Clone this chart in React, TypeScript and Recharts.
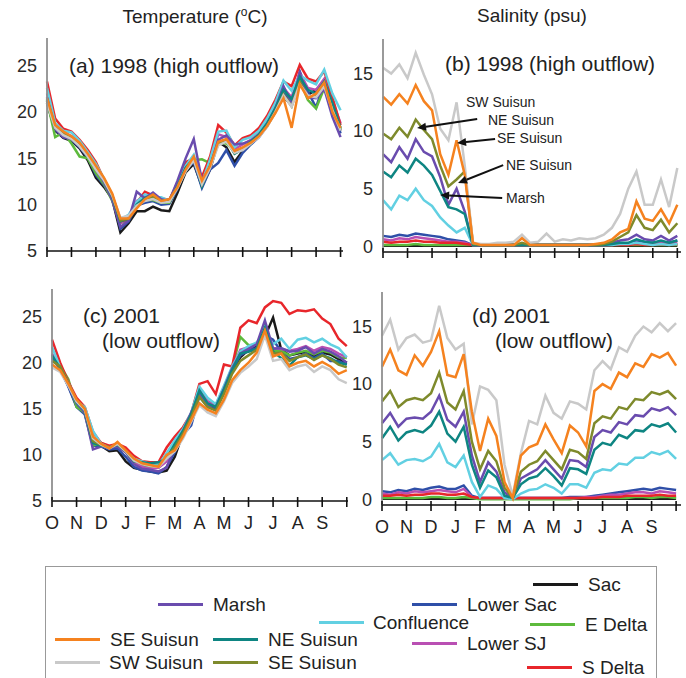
import React from 'react';
import { LineChart, Line, XAxis, YAxis, ReferenceLine } from 'recharts';

// x grid: one sample every third of a month, Oct 1 -> Oct 1
const months = ['O', 'N', 'D', 'J', 'F', 'M', 'A', 'M', 'J', 'J', 'A', 'S'];
const monthTicks = [0, 1, 2, 3, 4, 5, 6, 7, 8, 9, 10, 11, 12];
const tempTicks = [5, 10, 15, 20, 25];
const salTicks = [0, 5, 10, 15];

// (a) temperature 1998
const aSac = [21.0,18.0,17.2,16.9,16.1,14.8,12.9,11.9,10.6,7.0,8.0,9.3,9.3,9.8,9.4,9.3,11.3,13.5,14.4,12.0,13.8,16.8,16.2,14.6,15.8,16.9,17.6,18.7,20.1,21.6,20.8,23.4,21.9,22.4,23.0,20.4,18.0];
const aLowerSac = [21.2,18.1,17.3,17.0,16.2,15.1,13.2,12.1,10.8,7.4,8.2,9.9,10.2,10.4,10.0,10.1,11.7,13.8,14.6,11.8,13.8,14.5,15.9,14.2,15.6,16.5,17.3,18.5,20.2,22.0,21.1,24.4,22.2,20.5,23.2,20.4,17.7];
const aEDelta = [21.3,17.3,17.8,16.6,15.2,15.0,13.4,12.2,10.4,8.0,8.4,10.0,10.5,10.5,10.2,10.2,12.0,14.0,14.8,14.9,14.5,16.7,16.6,15.8,16.0,16.6,17.9,19.0,20.3,21.6,21.0,23.4,21.3,20.4,22.6,21.0,18.2];
const aLowerSJ = [22.0,18.5,17.8,17.4,16.6,15.4,13.8,12.5,10.8,8.0,8.6,10.4,10.9,11.0,10.6,10.5,12.1,14.1,15.0,12.6,14.6,17.6,17.3,16.0,16.5,17.0,17.8,19.0,20.7,22.6,21.6,24.2,22.6,22.4,23.6,21.2,18.8];
const aSDelta = [23.3,19.3,18.2,17.9,17.0,15.9,14.6,12.7,11.0,8.2,8.4,10.2,11.4,11.0,10.7,10.5,12.4,14.6,15.0,13.0,15.2,18.6,17.8,16.4,17.2,17.5,18.3,19.6,21.3,23.3,22.8,25.1,23.6,23.3,24.4,21.6,18.6];
const aConfluence = [22.6,18.8,18.0,17.8,16.9,15.7,14.4,12.8,11.0,8.4,8.9,10.3,11.1,10.8,10.8,10.4,12.2,14.2,15.4,12.4,14.9,17.9,18.0,16.2,17.0,17.3,18.0,19.3,21.0,23.4,22.3,24.0,23.4,23.0,24.6,22.0,20.2];
const aMarsh = [21.6,18.2,17.3,17.1,16.3,15.3,13.9,12.4,10.5,7.6,8.3,11.4,10.7,11.3,10.6,10.4,12.6,15.0,17.1,12.6,14.1,17.0,17.5,16.5,16.6,16.9,17.5,18.6,20.4,22.8,21.0,24.2,21.6,21.5,22.5,19.5,17.3];
const aNESuisun = [21.4,18.4,17.6,17.2,16.4,15.2,13.9,12.6,10.9,8.2,8.5,10.0,10.7,11.0,10.4,10.5,12.0,14.0,15.0,12.0,14.2,16.6,17.0,15.5,16.0,16.8,17.6,18.8,20.4,22.4,21.4,23.8,22.4,22.0,23.3,21.0,18.3];
const aSESuisunOl = [21.2,18.4,17.7,17.3,16.5,15.3,14.0,12.7,11.0,8.3,8.5,9.8,10.5,10.9,10.3,10.4,11.8,13.7,15.0,12.2,14.1,16.6,17.0,15.6,16.1,16.7,17.4,18.5,20.0,21.9,20.6,23.2,21.7,21.7,23.0,20.2,18.1];
const aSWSuisun = [21.0,18.3,17.5,17.1,16.3,15.2,13.8,12.6,11.0,8.6,8.8,9.9,10.4,10.6,10.2,10.3,11.8,13.6,14.8,12.2,14.0,16.4,16.8,15.6,15.9,16.6,17.3,18.4,20.0,21.8,20.6,23.0,21.8,21.6,22.8,20.2,18.0];
const aSESuisun = [21.5,18.6,17.9,17.4,16.7,15.5,14.2,12.9,11.2,8.5,8.5,9.6,10.6,11.1,10.4,10.6,11.9,13.8,15.2,12.6,14.2,16.8,17.1,15.8,16.2,16.7,17.4,18.5,19.9,21.5,18.3,23.0,21.5,22.0,23.2,20.0,18.3];

// (b) salinity 1998
const bSac = [0.05,0.05,0.05,0.05,0.05,0.05,0.05,0.05,0.05,0.05,0.05,0.05,0.05,0.05,0.05,0.05,0.05,0.05,0.05,0.05,0.05,0.05,0.05,0.05,0.05,0.05,0.05,0.05,0.05,0.05,0.05,0.05,0.05,0.05,0.05,0.05,0.05];
const bLowerSac = [0.9,0.8,1.0,0.9,1.1,1.0,0.9,0.8,0.6,0.5,0.4,0.1,0.1,0.1,0.1,0.1,0.1,0.1,0.1,0.1,0.1,0.1,0.1,0.1,0.1,0.1,0.1,0.1,0.2,0.2,0.2,0.4,0.3,0.3,0.4,0.3,0.5];
const bEDelta = [0.1,0.1,0.1,0.1,0.2,0.1,0.1,0.1,0.1,0.1,0.1,0.1,0.1,0.1,0.1,0.1,0.1,0.1,0.1,0.1,0.1,0.1,0.1,0.1,0.1,0.1,0.1,0.1,0.1,0.1,0.1,0.1,0.1,0.1,0.1,0.1,0.1];
const bLowerSJ = [0.6,0.5,0.7,0.6,0.8,0.7,0.6,0.5,0.4,0.4,0.3,0.1,0.1,0.1,0.1,0.1,0.1,0.1,0.1,0.1,0.1,0.1,0.1,0.1,0.1,0.1,0.1,0.1,0.1,0.2,0.2,0.3,0.2,0.2,0.3,0.2,0.3];
const bSDelta = [0.4,0.3,0.4,0.4,0.5,0.4,0.4,0.3,0.3,0.3,0.2,0.1,0.1,0.1,0.1,0.1,0.1,0.1,0.1,0.1,0.1,0.1,0.1,0.1,0.1,0.1,0.1,0.1,0.1,0.1,0.1,0.2,0.1,0.1,0.2,0.1,0.2];
const bConfluence = [4.0,3.2,4.4,4.0,5.0,4.0,3.5,2.5,1.8,1.2,1.6,0.1,0.1,0.1,0.1,0.1,0.1,0.1,0.1,0.1,0.1,0.1,0.1,0.1,0.1,0.1,0.1,0.1,0.1,0.2,0.2,0.3,0.2,0.1,0.2,0.1,0.2];
const bMarsh = [8.0,7.3,8.6,7.6,9.3,8.2,7.8,6.0,3.6,5.0,3.0,0.1,0.1,0.1,0.1,0.1,0.1,0.2,0.1,0.1,0.1,0.1,0.1,0.1,0.1,0.1,0.1,0.2,0.3,0.5,0.6,1.0,0.6,0.5,0.9,0.5,0.9];
const bNESuisun = [6.5,6.0,7.0,6.4,7.6,7.0,6.2,4.8,3.4,3.2,2.8,0.1,0.1,0.1,0.1,0.1,0.1,0.1,0.1,0.1,0.1,0.1,0.1,0.1,0.1,0.1,0.1,0.1,0.2,0.3,0.3,0.6,0.4,0.3,0.5,0.3,0.5];
const bSESuisunOl = [9.8,9.3,10.3,9.5,11.0,10.1,9.3,7.0,5.2,5.8,6.5,0.2,0.1,0.1,0.1,0.1,0.1,0.3,0.1,0.1,0.1,0.1,0.1,0.1,0.1,0.1,0.1,0.2,0.4,0.8,1.2,2.7,1.6,1.4,2.3,1.2,2.0];
const bSWSuisun = [15.5,15.0,15.8,14.6,16.8,14.9,13.2,10.2,9.2,12.5,7.0,0.3,0.2,0.2,0.3,0.3,0.4,1.0,0.3,0.4,1.1,0.4,0.6,0.5,0.7,0.6,0.7,1.0,1.6,2.8,5.0,6.5,3.6,3.6,5.8,3.4,6.8];
const bSESuisun = [13.0,12.3,13.2,12.4,14.0,12.6,11.8,8.0,6.2,9.2,6.2,0.3,0.1,0.1,0.1,0.1,0.1,0.7,0.1,0.1,0.1,0.1,0.1,0.1,0.1,0.1,0.2,0.3,0.6,1.2,1.5,3.9,2.4,2.2,3.2,2.0,3.6];

// (c) temperature 2001
const cSac = [20.9,19.3,17.5,15.3,14.5,11.6,11.0,10.4,10.5,9.3,8.6,8.4,8.2,8.1,8.3,9.8,12.4,14.2,16.8,15.5,15.0,17.0,19.0,20.6,21.4,21.8,22.8,24.9,21.4,20.8,21.0,21.2,20.7,21.1,20.9,20.4,20.0];
const cLowerSac = [20.7,19.3,17.4,15.2,14.4,11.0,10.9,10.6,10.7,9.8,8.7,8.3,8.2,8.0,8.7,10.3,12.2,13.2,16.4,15.2,14.9,17.0,19.2,20.8,21.3,21.6,23.0,22.5,21.2,20.4,20.6,21.0,20.5,21.0,20.2,20.2,19.8];
const cEDelta = [20.6,19.7,18.2,15.2,14.6,11.0,11.3,10.9,11.0,10.4,9.3,8.8,8.6,8.6,9.6,11.2,12.7,14.3,16.9,15.8,15.4,17.3,19.5,22.8,21.9,22.0,23.2,21.3,21.3,20.8,21.1,21.3,20.9,21.3,21.1,20.6,20.5];
const cLowerSJ = [21.0,19.5,17.9,15.9,14.8,11.4,11.1,10.9,11.0,10.3,9.3,8.7,8.5,8.6,9.3,11.0,12.6,14.5,17.1,15.8,15.3,17.3,19.4,21.4,21.7,22.0,23.4,21.6,21.5,21.3,21.5,21.8,21.3,21.7,21.5,21.0,20.6];
const cSDelta = [22.5,20.0,17.9,16.2,15.2,12.5,11.3,11.0,11.2,10.8,9.9,9.3,9.2,9.2,10.8,12.0,13.0,14.5,17.7,18.0,16.6,19.8,19.6,23.8,24.6,24.3,26.0,26.7,26.5,25.3,25.7,25.6,25.8,24.8,24.2,22.6,21.8];
const cConfluence = [21.7,19.5,17.8,15.8,15.2,12.6,11.2,10.8,11.1,10.4,9.6,9.3,9.0,8.9,10.2,11.6,12.8,14.6,17.4,16.2,15.5,17.5,19.6,21.2,21.8,22.2,23.4,22.0,22.6,21.5,22.5,22.7,22.2,22.6,22.0,21.6,20.6];
const cMarsh = [20.5,19.4,17.6,15.6,14.6,10.6,10.9,10.8,10.9,10.3,9.0,8.5,8.4,8.2,8.6,10.9,12.6,14.6,16.6,15.4,15.2,17.2,19.4,21.0,21.5,22.0,24.6,21.5,21.6,21.2,21.3,21.7,21.0,21.5,21.2,20.7,20.0];
const cNESuisun = [20.8,19.4,17.7,15.7,14.8,11.3,11.0,10.8,11.1,10.4,9.3,9.2,9.1,9.2,9.6,11.2,12.6,14.4,17.0,15.6,15.2,17.1,19.2,21.0,21.2,21.5,23.8,21.2,20.5,19.7,20.6,20.8,20.4,20.8,20.5,20.0,19.8];
const cSESuisunOl = [20.2,19.6,17.8,15.9,15.0,11.5,11.1,10.8,11.2,10.4,9.4,9.0,8.8,8.8,9.8,10.8,12.3,14.1,16.3,15.2,14.8,16.6,18.8,20.2,20.8,21.4,23.4,21.0,21.1,20.2,20.6,20.9,20.3,20.8,20.4,19.8,19.5];
const cSWSuisun = [19.5,19.0,17.5,15.8,14.9,11.8,11.1,10.7,11.2,10.4,9.4,9.0,8.8,8.7,9.6,10.4,11.8,13.6,15.4,14.6,14.2,15.8,17.8,18.9,19.6,20.4,23.0,20.2,20.4,19.2,19.6,19.8,19.0,19.6,19.2,18.2,17.8];
const cSESuisun = [19.8,19.2,17.7,16.0,15.0,12.0,11.2,10.7,11.4,10.5,9.6,9.1,8.9,8.7,10.0,10.5,12.0,13.8,15.6,14.9,14.5,16.0,18.1,19.2,20.0,21.1,23.5,20.7,21.0,19.6,20.0,20.2,19.6,20.1,19.6,18.8,19.2];

// (d) salinity 2001
const dSac = [0.05,0.05,0.05,0.05,0.05,0.05,0.05,0.05,0.05,0.05,0.05,0.05,0.05,0.05,0.05,0.05,0.05,0.05,0.05,0.05,0.05,0.05,0.05,0.05,0.05,0.05,0.05,0.05,0.05,0.05,0.05,0.05,0.05,0.05,0.05,0.05,0.05];
const dLowerSac = [0.7,0.6,0.8,0.7,0.9,0.8,1.0,1.1,0.9,0.9,1.2,0.3,0.1,0.1,0.1,0.1,0.1,0.1,0.1,0.1,0.1,0.1,0.1,0.2,0.2,0.2,0.3,0.4,0.5,0.6,0.7,0.8,0.9,0.8,1.0,0.9,0.8];
const dEDelta = [0.1,0.1,0.1,0.1,0.1,0.1,0.2,0.2,0.1,0.1,0.2,0.1,0.0,0.0,0.0,0.0,0.0,0.0,0.0,0.0,0.0,0.0,0.0,0.0,0.1,0.1,0.1,0.1,0.1,0.1,0.1,0.2,0.2,0.1,0.2,0.2,0.1];
const dLowerSJ = [0.5,0.4,0.6,0.5,0.7,0.6,0.7,0.8,0.7,0.6,0.9,0.2,0.1,0.1,0.1,0.1,0.1,0.1,0.1,0.1,0.1,0.1,0.1,0.1,0.1,0.2,0.2,0.3,0.4,0.4,0.5,0.6,0.6,0.5,0.7,0.6,0.5];
const dSDelta = [0.3,0.3,0.4,0.3,0.4,0.4,0.5,0.5,0.4,0.4,0.5,0.2,0.1,0.1,0.1,0.1,0.1,0.1,0.1,0.1,0.1,0.1,0.1,0.1,0.1,0.1,0.1,0.2,0.2,0.2,0.3,0.3,0.3,0.3,0.4,0.3,0.3];
const dConfluence = [3.4,4.0,3.0,3.4,3.5,3.3,3.7,4.8,3.2,2.8,3.8,1.5,0.2,1.2,0.9,0.1,0.0,0.5,0.8,0.9,1.3,1.0,0.5,1.3,1.3,1.0,2.3,2.6,2.5,3.1,3.0,3.6,3.6,4.1,3.9,4.2,3.5];
const dMarsh = [6.6,7.5,6.3,7.0,7.1,7.0,7.6,9.0,6.9,6.3,7.6,3.8,1.5,3.2,2.4,0.6,0.1,1.8,2.2,2.6,3.4,2.6,1.8,3.4,3.3,2.8,5.4,6.0,5.8,6.7,6.5,7.3,7.2,7.9,7.7,8.0,7.3];
const dNESuisun = [5.3,6.3,5.1,5.8,6.0,5.8,6.4,7.6,5.7,5.0,6.3,3.0,1.0,2.5,1.9,0.3,0.1,1.3,1.8,2.0,2.7,2.0,1.2,2.7,2.6,2.2,4.3,4.9,4.7,5.6,5.3,6.0,5.9,6.5,6.3,6.6,5.8];
const dSESuisunOl = [8.5,9.4,8.0,8.6,8.8,8.6,9.2,11.0,8.4,7.8,9.4,5.0,2.6,4.2,3.3,1.0,0.1,2.4,3.0,3.3,4.2,3.4,2.6,4.3,4.1,3.5,6.6,7.2,7.0,8.0,7.8,8.7,8.6,9.3,9.1,9.4,8.7];
const dSWSuisun = [14.2,15.6,13.0,14.0,14.3,13.6,13.8,16.8,14.0,13.0,13.5,6.5,9.8,9.5,8.6,3.0,0.3,4.0,6.8,6.5,9.0,7.5,7.0,8.5,8.3,7.8,11.2,12.0,11.3,13.2,12.8,14.2,15.0,14.5,15.3,14.6,15.3];
const dSESuisun = [11.5,13.0,11.2,10.8,12.5,11.6,12.8,14.6,10.8,10.6,12.6,7.6,4.2,7.0,5.5,1.5,0.1,3.8,4.5,4.8,6.5,5.2,4.0,6.4,5.8,4.6,9.4,10.0,9.6,11.0,10.6,11.8,11.5,12.6,12.3,12.7,11.6];

const series = [
  { key: 'sac', name: 'Sac', color: '#1a1a1a' },
  { key: 'lowerSac', name: 'Lower Sac', color: '#2f4fa8' },
  { key: 'eDelta', name: 'E Delta', color: '#5dba3c' },
  { key: 'lowerSJ', name: 'Lower SJ', color: '#b94fb3' },
  { key: 'sDelta', name: 'S Delta', color: '#e8262b' },
  { key: 'confluence', name: 'Confluence', color: '#62d0e2' },
  { key: 'marsh', name: 'Marsh', color: '#6a4cae' },
  { key: 'neSuisun', name: 'NE Suisun', color: '#0e8582' },
  { key: 'seSuisunOl', name: 'SE Suisun', color: '#7e8a2c' },
  { key: 'swSuisun', name: 'SW Suisun', color: '#c9c9c9' },
  { key: 'seSuisun', name: 'SE Suisun', color: '#f5821f' },
];

const buildRows = (cols: Record<string, number[]>) =>
  cols.sac.map((_, i) => {
    const row: Record<string, number> = { m: i / 3 };
    Object.keys(cols).forEach((k) => (row[k] = cols[k][i]));
    return row;
  });

const rowsA = buildRows({ sac: aSac, lowerSac: aLowerSac, eDelta: aEDelta, lowerSJ: aLowerSJ, sDelta: aSDelta, confluence: aConfluence, marsh: aMarsh, neSuisun: aNESuisun, seSuisunOl: aSESuisunOl, swSuisun: aSWSuisun, seSuisun: aSESuisun });
const rowsB = buildRows({ sac: bSac, lowerSac: bLowerSac, eDelta: bEDelta, lowerSJ: bLowerSJ, sDelta: bSDelta, confluence: bConfluence, marsh: bMarsh, neSuisun: bNESuisun, seSuisunOl: bSESuisunOl, swSuisun: bSWSuisun, seSuisun: bSESuisun });
const rowsC = buildRows({ sac: cSac, lowerSac: cLowerSac, eDelta: cEDelta, lowerSJ: cLowerSJ, sDelta: cSDelta, confluence: cConfluence, marsh: cMarsh, neSuisun: cNESuisun, seSuisunOl: cSESuisunOl, swSuisun: cSWSuisun, seSuisun: cSESuisun });
const rowsD = buildRows({ sac: dSac, lowerSac: dLowerSac, eDelta: dEDelta, lowerSJ: dLowerSJ, sDelta: dSDelta, confluence: dConfluence, marsh: dMarsh, neSuisun: dNESuisun, seSuisunOl: dSESuisunOl, swSuisun: dSWSuisun, seSuisun: dSESuisun });

// arrows in panel (b): [from label, to line] in (month, psu)
const arrowsB = [
  [{ x: 3.84, y: 11.05 }, { x: 1.39, y: 10.27 }],
  [{ x: 4.57, y: 9.31 }, { x: 3.02, y: 8.97 }],
  [{ x: 4.9, y: 7.05 }, { x: 3.06, y: 5.49 }],
  [{ x: 4.86, y: 4.19 }, { x: 2.33, y: 4.45 }],
];

const FONT = "'Liberation Sans', Arial, Helvetica, sans-serif";
const FRAME = '#8f8f8f';

const arrowShape = (p: any) => {
  const { x1, y1, x2, y2 } = p;
  const a = Math.atan2(y2 - y1, x2 - x1);
  const bx = x2 - 9 * Math.cos(a);
  const by = y2 - 9 * Math.sin(a);
  const pts = `${x2},${y2} ${bx - 4 * Math.sin(a)},${by + 4 * Math.cos(a)} ${bx + 4 * Math.sin(a)},${by - 4 * Math.cos(a)}`;
  return (
    <g>
      <line x1={x1} y1={y1} x2={bx} y2={by} stroke="#111" strokeWidth={2} />
      <polygon points={pts} fill="#111" />
    </g>
  );
};

const MonthTick = (props: any) => {
  const { x, y, payload, showMonths } = props;
  return (
    <g>
      <line x1={x} x2={x} y1={y - 4} y2={y + 6} stroke="#111" strokeWidth={1.6} />
      {showMonths && payload.value < 12 && (
        <text x={x} y={y + 28} textAnchor="middle" fontSize={18} fill="#222" fontFamily={FONT}>
          {months[payload.value]}
        </text>
      )}
    </g>
  );
};

interface PanelProps {
  left: number;
  top: number;
  width: number;
  height: number;
  marginTop: number;
  marginRight: number;
  yAxisWidth: number;
  xAxisHeight: number;
  xMax: number;
  yDomain: [number, number];
  yTicks: number[];
  rows: Record<string, number>[];
  showMonths: boolean;
  arrows?: { x: number; y: number }[][];
}

const Panel: React.FC<PanelProps> = (p) => (
  <div style={{ position: 'absolute', left: p.left, top: p.top }}>
    <LineChart
      width={p.width}
      height={p.height}
      data={p.rows}
      margin={{ top: p.marginTop, right: p.marginRight, left: 0, bottom: 0 }}
    >
      <XAxis
        dataKey="m"
        type="number"
        domain={[0, p.xMax]}
        ticks={monthTicks}
        interval={0}
        height={p.xAxisHeight}
        tickSize={0}
        tickMargin={0}
        tickLine={false}
        axisLine={{ stroke: '#111', strokeWidth: 1.6 }}
        tick={(t: any) => <MonthTick {...t} showMonths={p.showMonths} />}
      />
      {/* top edge of the plot frame */}
      <XAxis
        xAxisId="top"
        orientation="top"
        dataKey="m"
        type="number"
        domain={[0, p.xMax]}
        height={0}
        tick={false}
        tickLine={false}
        axisLine={{ stroke: FRAME, strokeWidth: 1.8 }}
      />
      <YAxis
        type="number"
        domain={p.yDomain}
        ticks={p.yTicks}
        interval={0}
        width={p.yAxisWidth}
        axisLine={{ stroke: FRAME, strokeWidth: 1.8 }}
        tickLine={false}
        tickSize={0}
        tickMargin={10}
        tick={{ fontSize: 18, fill: '#2a2a2a', fontFamily: FONT }}
      />
      {/* right edge of the plot frame */}
      <YAxis
        yAxisId="right"
        orientation="right"
        type="number"
        domain={p.yDomain}
        width={0}
        tick={false}
        tickLine={false}
        axisLine={{ stroke: FRAME, strokeWidth: 1.8 }}
      />
      {series.map((s) => (
        <Line
          key={s.key}
          dataKey={s.key}
          stroke={s.color}
          strokeWidth={2.5}
          dot={false}
          type="linear"
          isAnimationActive={false}
        />
      ))}
      {(p.arrows || []).map((seg, i) => (
        <ReferenceLine key={i} segment={seg} shape={arrowShape} />
      ))}
    </LineChart>
  </div>
);

const text = (left: number, cy: number, size: number, content: React.ReactNode) => (
  <div
    style={{ position: 'absolute', left, top: cy - size / 2, fontSize: size, lineHeight: `${size}px`, whiteSpace: 'nowrap', color: '#222' }}
  >
    {content}
  </div>
);

// legend layout: [series index, line x, y, text x]
const legendItems: [number, number, number, number][] = [
  [0, 533, 584, 588],
  [6, 158, 604, 213],
  [1, 412, 604, 467],
  [5, 319, 622, 373],
  [2, 530, 624, 585],
  [10, 55, 639, 110],
  [7, 213, 639, 268],
  [3, 412, 643, 467],
  [9, 55, 662, 109],
  [8, 213, 662, 268],
  [4, 527, 667, 582],
];

const App: React.FC = () => (
  <div style={{ position: 'absolute', left: 0, top: 0, width: 686, height: 678, overflow: 'hidden', background: '#fff', fontFamily: FONT }}>
    <div style={{ position: 'absolute', left: 95, width: 200, top: 5, textAlign: 'center', fontSize: 19, color: '#222' }}>
      Temperature (<sup style={{ fontSize: 12 }}>o</sup>C)
    </div>
    <div style={{ position: 'absolute', left: 432, width: 200, top: 5, textAlign: 'center', fontSize: 19, color: '#222' }}>
      Salinity (psu)
    </div>

    <Panel left={0} top={30} width={350} height={240} marginTop={8} marginRight={7} yAxisWidth={47} xAxisHeight={19}
      xMax={12.1} yDomain={[5, 28]} yTicks={tempTicks} rows={rowsA} showMonths={false} />
    <Panel left={350} top={30} width={336} height={240} marginTop={9} marginRight={5} yAxisWidth={33} xAxisHeight={18}
      xMax={12.15} yDomain={[-0.5, 18]} yTicks={salTicks} rows={rowsB} showMonths={false} arrows={arrowsB} />
    <Panel left={0} top={270} width={350} height={270} marginTop={19} marginRight={2} yAxisWidth={52} xAxisHeight={39}
      xMax={12.05} yDomain={[5, 28]} yTicks={tempTicks} rows={rowsC} showMonths />
    <Panel left={350} top={270} width={336} height={270} marginTop={22} marginRight={5} yAxisWidth={32} xAxisHeight={35}
      xMax={12.2} yDomain={[-0.5, 18]} yTicks={salTicks} rows={rowsD} showMonths />

    {text(69, 65, 21, '(a) 1998 (high outflow)')}
    {text(445, 63, 21, '(b) 1998 (high outflow)')}
    {text(83, 315, 21, '(c) 2001')}
    {text(102, 340, 21, '(low outflow)')}
    {text(472, 315, 21, '(d) 2001')}
    {text(495, 340, 21, '(low outflow)')}

    {text(466, 102, 14, 'SW Suisun')}
    {text(488, 120, 14, 'NE Suisun')}
    {text(497, 138, 14, 'SE Suisun')}
    {text(506, 165, 14, 'NE Suisun')}
    {text(506, 198, 14, 'Marsh')}

    <div style={{ position: 'absolute', left: 45, top: 566, width: 610, height: 120, border: '1.5px solid #999' }} />
    {legendItems.map(([si, lx, ly, tx]) => (
      <React.Fragment key={si}>
        <div style={{ position: 'absolute', left: lx, top: ly - 1.5, width: 45, height: 3, background: series[si].color }} />
        {text(tx, ly, 19, series[si].name)}
      </React.Fragment>
    ))}
  </div>
);

export default App;
